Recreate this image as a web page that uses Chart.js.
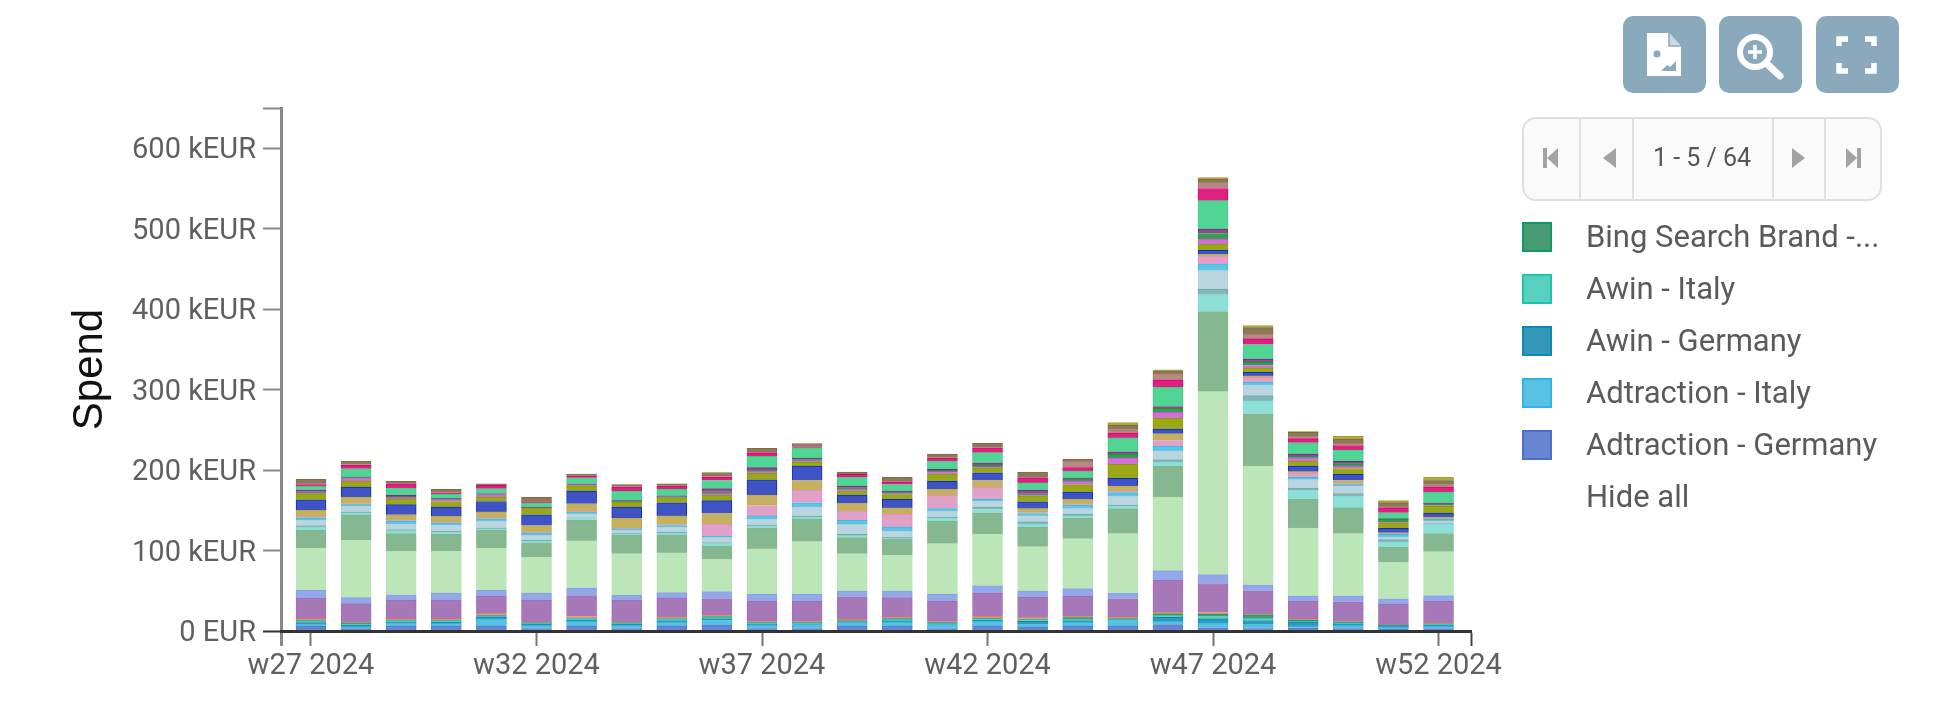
<!DOCTYPE html>
<html><head><meta charset="utf-8">
<script src="https://cdn.jsdelivr.net/npm/chart.js@4"></script>
<style>
html,body{margin:0;padding:0;background:#fff;width:1946px;height:706px;overflow:hidden;font-family:Roboto,sans-serif}
canvas{position:absolute;left:0;top:0;filter:blur(0.6px)}
.abs{position:absolute}
.btn{position:absolute;top:16px;width:83px;height:77px;background:#8aa9bd;border-radius:10px}
.btn svg{position:absolute;left:0;top:0}
#pager{position:absolute;left:1522px;top:117px;width:356px;height:80px;border:2px solid #e0e0e0;border-radius:14px;background:#fafafa}
.div{position:absolute;top:0;width:2px;height:80px;background:#e0e0e0}
#range{position:absolute;left:1632px;top:117px;width:140px;height:82px;line-height:82px;text-align:center;font-size:25px;color:#555}
.sw{position:absolute;left:1522px;width:26px;height:26px;border:2px solid}
.lg{position:absolute;left:1586px;font-size:31px;line-height:36px;color:#5a5a5a;white-space:nowrap}
</style></head><body>
<canvas id="c" width="1946" height="706"></canvas>
<div class="btn" style="left:1623px"><svg width="83" height="77"><path d="M24 17h22l12 13v30H24z" fill="#fff"/><path d="M46 17v13h12" fill="#c9d8e2" stroke="#8aa9bd" stroke-width="1.5"/><circle cx="34" cy="38" r="3.5" fill="#8aa9bd"/><path d="M38 55l6-6 3 2 6-6v10z" fill="#8aa9bd"/></svg></div>
<div class="btn" style="left:1719px"><svg width="83" height="77"><circle cx="36" cy="36" r="15" fill="none" stroke="#fff" stroke-width="6"/><path d="M47 47l14 13" stroke="#fff" stroke-width="7" stroke-linecap="round"/><path d="M36 29v14M29 36h14" stroke="#fff" stroke-width="3.5"/></svg></div>
<div class="btn" style="left:1816px"><svg width="83" height="77"><path d="M23 30V23h9M49 23h9v7M58 47v8h-9M32 55h-9v-8" fill="none" stroke="#fff" stroke-width="5.5"/></svg></div>
<div id="pager">
<div class="div" style="left:55px"></div><div class="div" style="left:108px"></div><div class="div" style="left:248px"></div><div class="div" style="left:300px"></div>
</div>
<svg class="abs" style="left:1522px;top:117px" width="360" height="82" fill="#a3a3a3">
<path d="M21 31h4v20h-4zM36 31v20l-11-10zM94 31v20l-13-10zM270 31v20l13-10zM324 31v20l11-10zM335 31h4v20h-4z"/></svg>
<div id="range">1 - 5 / 64</div>
<div id="legend"></div>
<script>
const weeks=[27,28,29,30,31,32,33,34,35,36,37,38,39,40,41,42,43,44,45,46,47,48,49,50,51,52];
const yTicks=[0,100,200,300,400,500,600];
const legendNames=["Bing Search Brand -...","Awin - Italy","Awin - Germany","Adtraction - Italy","Adtraction - Germany"];
const hideAll="Hide all";
const adtractionGermany=[6,3,6,6,6,3,6,3,6,7,3,3,6,6,3,6,5,6,6,8,4,3,4,3,2,3];
const adtractionItaly=[3,2.5,4,3.5,9,4,6,4,5,6,4.6,5,5,5,5,6,3,5,7,4,6,5,2,4,2.5,3];
const awinGermany=[1.5,2,1,1.5,2.5,1.5,1.5,1.5,2,2,1,.6,.5,1.5,1,1.6,4,2,1,5,5,5,5,2,1,1.5];
const awinItaly=[1.5,1.5,1.5,1.5,1.5,1,2,1,2,2,1,1,.5,1.9,.6,1.5,2,2,.4,2,3,3,1,1,.5,.5];
const bingBrand=[1,1,.5,.5,.5,.5,.5,.5,.4,1,1,1,.5,1,1,1,.6,1.6,1,2.6,3,4,1.5,1.4,1,1];
const coral=[2,1,2,2,2,1,2,1,2,2,1,1,2,2,1,2.5,2,2,2,2,2,1,1,1,.5,1];
const purple=[26,23,23,23,22,27,26,27,23.6,20,25.4,25.4,28.1,24,25.4,28.2,25.4,24.9,22.6,39.4,36,29,22.5,24,25.5,27];
const periwinkle=[9.5,7.4,7,9,7,9,9.4,6.3,6.6,9,8.5,8.5,7.1,8.3,8.5,9.2,7.7,9.1,6.8,12,11,7,6.5,7.1,7,7];
const lightGreen=[52.5,71.2,54,52,52.5,45,58.6,51.7,49.4,40,56.5,65.5,46.3,44.7,63,64,55,62.1,74.2,91.4,227.5,148,84.5,77.5,45,54.5];
const sage=[22,31.1,22,21,22,17,25.4,23,22,16.6,25.5,27.7,20,19.6,28.1,27,24.3,25.3,31,38.6,99.5,65,35.5,32,19,22.5];
const aqua=[4,2.9,3.5,2.5,2,2.5,2.4,1.7,2.5,3,3,2.5,2.5,1.5,3.5,4,4,3,3,5,21,16,11.2,14.7,6.5,11.5];
const tealGrey=[2,1.5,1.5,1.5,1,1.1,1,1,1.5,1.4,1.2,1.5,1.5,1,1.5,3,3,2,1.5,3,7,6.5,3,3,3,1];
const paleBlue=[6.5,6.9,7,7,8.6,6.4,4.9,3.3,6,6,7,11.3,12.5,7.5,7.4,7.5,7,7,11.2,10.6,22.8,12.5,10.3,9.3,3.2,3.1];
const sky=[3.3,2,3.6,3,2.9,2.7,2.1,2,2,2,4.3,5.4,4.9,5,3,2,3,4.5,4.3,6.2,8.2,4,3,2,3.3,2.1];
const pink=[1,1,1,1,1,.8,1,1,1,14.5,13,15.3,11.6,16,17,15.5,1,1,2,7,10,6,5,1,.5,.5];
const gold=[8.2,8.4,6.9,7.4,7.5,8.5,9.2,12,11,13.5,13,12.3,9.6,8,7,8,5,6,6,8.2,2,2,2,4,1.5,2.4];
const royal=[13,12.6,12.5,11.6,13,13.5,16,14,16.4,16,19,18,10.4,10.5,10,9.6,8.6,9.1,9.6,6,5,4.5,7,7.6,5.5,5];
const olive=[7.6,7,7,7,5.5,7.5,6,6,6,7,8,5,5,6,9,6,7,9.4,17.4,13.3,8,5.5,6,7.4,7,8.4];
const orchid=[1,4.4,.5,2.5,3,.5,.8,.6,1,2,2.5,1.5,2,2,2,1.5,1,4,8,7.5,6,3,4.5,3,1,1];
const darkGreen=[1.5,.5,1,1,.6,.5,1,.8,1,2,1.5,1.5,2,1,1,2,2,3,5,5,7,4,2,3,3.2,1.9];
const plum=[2.4,.5,3,.5,.5,1,1.2,.6,.7,4,3,2,2,1.5,2.8,3,4.4,1.4,2.7,2.2,5.6,4,2.5,3,1,1.5];
const mint=[4.2,10.2,9.1,5,6.2,5.4,7.4,11.7,7.9,10,14,12.7,11,8,10.2,12.5,9,8.3,17.3,23.9,35.2,18,14,13.8,7.3,13.2];
const crimson=[2.3,4.2,5.4,1.5,4.2,1,2,5.3,4,4,4.5,1.3,3.6,3.5,4,6,6.4,4.3,6,9.1,15.2,7,5,5.8,6,6.2];
const rose=[1.5,1,.5,.5,.5,1,.6,.5,.5,1,.5,1,.5,.5,.5,.5,1,8,4,7.5,7.6,6,3,3,2,3];
const brown=[5,4.2,2.5,4,1.5,5,2,2.5,2.5,5,5,3,2.4,5,4.5,5,6,2.6,6,4,4,8,5,5,4.5,5];
const khaki=[0,0,0,0,0,0,0,0,0,0,0,0,0,0,0,0,0,0,3,1,2,2.5,1,3.4,2.5,4.2];

const series=[adtractionGermany,adtractionItaly,awinGermany,awinItaly,bingBrand,coral,purple,periwinkle,lightGreen,sage,aqua,tealGrey,paleBlue,sky,pink,gold,royal,olive,orchid,darkGreen,plum,mint,crimson,rose,brown,khaki];
const seriesNames=["Adtraction - Germany","Adtraction - Italy","Awin - Germany","Awin - Italy","Bing Search Brand","Other 6","Other 7","Other 8","Other 9","Other 10","Other 11","Other 12","Other 13","Other 14","Other 15","Other 16","Other 17","Other 18","Other 19","Other 20","Other 21","Other 22","Other 23","Other 24","Other 25","Other 26"];
const fills=["#6785d0","#58c0e3","#3498bb","#58d0c0","#479a72","#e8957a","#a678b8","#92a8ea","#bce5b8","#85b890","#8ddfd8","#85b5b5","#bbd5df","#5cc5e5","#e0a0c8","#c5b060","#3f53c5","#9aa815","#d070d8","#3a9a50","#904a90","#50d595","#e02080","#b58a85","#8a7a58","#b0a840"];
const borders=["#5a7ace","#2db5e0","#0a8ab0","#1cc4ae","#0e9a60","#e67a55","#a070b4","#88a0e8","#b8e4b4","#7fb68c","#80dcd4","#70aaaa","#b2d0dc","#38bce4","#dc94c2","#bda850","#0a30c8","#8a9c00","#c858d0","#109a30","#7a2a7a","#38d088","#e00070","#a87a70","#806a40","#a8a020"];

const legendFill=["#479a72","#58d0c0","#3498bb","#58c0e3","#6785d0"];
const legendBorder=["#0e9a60","#1cc4ae","#0a8ab0","#2db5e0","#4c6fcc"];
const lgEl=document.getElementById('legend');
legendNames.forEach((n,i)=>{
  const top=222+i*52;
  lgEl.insertAdjacentHTML('beforeend',`<div class="sw" style="top:${top}px;background:${legendFill[i]};border-color:${legendBorder[i]}"></div><div class="lg" style="top:${top-3}px">${n}</div>`);
});
lgEl.insertAdjacentHTML('beforeend',`<div class="lg" style="top:${222+5*52-3}px">${hideAll}</div>`);

const fontTick={family:'Roboto',size:29};
new Chart(document.getElementById('c'),{
  type:'bar',
  data:{datasets:series.map((s,i)=>({
    label:seriesNames[i],
    data:s.map((v,j)=>({x:weeks[j],y:v})),
    backgroundColor:fills[i],borderColor:borders[i],borderWidth:1,barThickness:30
  }))},
  options:{
    responsive:false,animation:false,
    layout:{padding:{left:0,top:108,right:475,bottom:0}},
    plugins:{legend:{display:false},tooltip:{enabled:false}},
    scales:{
      x:{type:'linear',stacked:true,min:26.335,max:52.72,offset:false,
        afterBuildTicks(s){s.ticks=[26.335,27,32,37,42,47,52,52.72].map(v=>({value:v}));},
        afterFit(s){s.height=75;},
        border:{display:true,color:'#333',width:3,z:2},
        grid:{display:true,offset:false,drawOnChartArea:false,drawTicks:true,tickLength:15,
          tickColor:c=>c.index===0?'#888':(c.index===7?'#444':'#777'),
          tickWidth:c=>c.index===0?3:2},
        ticks:{autoSkip:false,maxRotation:0,minRotation:0,padding:3,color:'#5f5f5f',font:fontTick,
          callback:v=>weeks.includes(v)?`w${v} 2024`:''}
      },
      y:{type:'linear',stacked:true,min:0,max:650,
        afterBuildTicks(s){s.ticks=yTicks.concat([650]).map(v=>({value:v}));},
        afterFit(s){s.width=281;},
        border:{display:true,color:'#888',width:3},
        grid:{display:true,drawOnChartArea:false,drawTicks:true,tickLength:18,
          tickColor:c=>c.tick&&c.tick.value===0?'#333':'#888',tickWidth:2},
        title:{display:true,text:'Spend',color:'#111',font:{family:'Liberation Sans',size:42},padding:{top:65,bottom:0}},
        ticks:{autoSkip:false,padding:7,labelOffset:3,color:'#5f5f5f',font:fontTick,
          callback:v=>v===650?'':(v===0?'0 EUR':`${v} kEUR`)}
      }
    }
  }
});
</script>
</body></html>
